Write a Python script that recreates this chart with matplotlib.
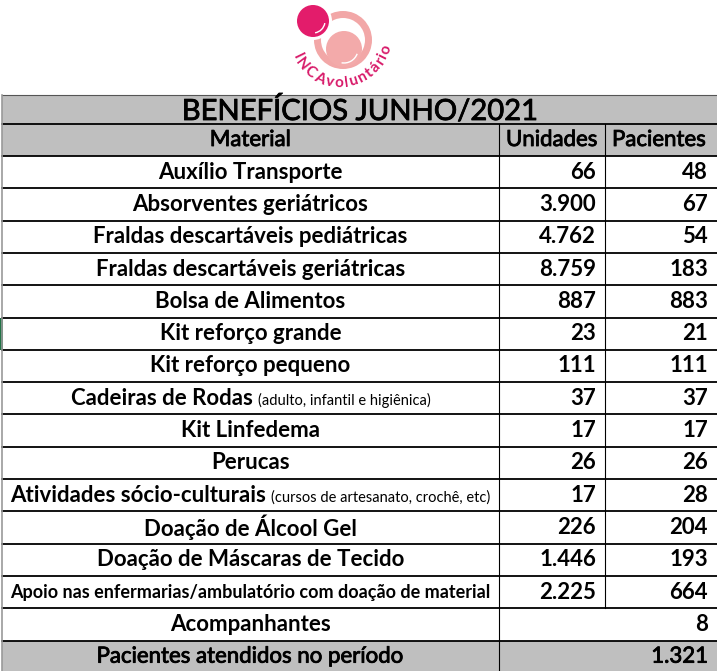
import numpy as np
import matplotlib.pyplot as plt
import matplotlib.patheffects as pe
from matplotlib.patches import Rectangle, Circle, Wedge, Arc

titulo = "BENEFÍCIOS JUNHO/2021"
cabecalho = ["Material", "Unidades", "Pacientes"]
materiais = ["Auxílio Transporte", "Absorventes geriátricos",
             "Fraldas descartáveis pediátricas", "Fraldas descartáveis geriátricas",
             "Bolsa de Alimentos", "Kit reforço grande", "Kit reforço pequeno",
             "Cadeiras de Rodas", "Kit Linfedema", "Perucas",
             "Atividades sócio-culturais", "Doação de Álcool Gel",
             "Doação de Máscaras de Tecido",
             "Apoio nas enfermarias/ambulatório com doação de material",
             "Acompanhantes"]
notas = ["", "", "", "", "", "", "", "(adulto, infantil e higiênica)", "", "",
         "(cursos de artesanato, crochê, etc)", "", "", "", ""]
unidades = [66, 3900, 4762, 8759, 887, 23, 111, 37, 17, 26, 17, 226, 1446, 2225, None]
pacientes = [48, 67, 54, 183, 883, 21, 111, 37, 17, 26, 28, 204, 193, 664, 8]
total_label = "Pacientes atendidos no período"
total_pacientes = 1321
logo_texto = "INCAvoluntário"

def fmt(v):
    return f"{v:,}".replace(",", ".")

plt.rcParams['font.family'] = ['Lato', 'DejaVu Sans']

fig = plt.figure(figsize=(7.17, 6.71), dpi=100)
ax = fig.add_axes([0, 0, 1, 1])
ax.set_xlim(0, 717)
ax.set_ylim(671, 0)
ax.axis('off')

x0, x1, x2, x3 = 2, 499, 605, 717
gray = '#BFBFBF'
y_title, y_head, y_data = 95, 124, 156
rh = 32.3
n = len(materiais)
y_tot = y_data + n * rh
medio = [pe.withStroke(linewidth=0.6, foreground='black')]

# fundos cinza
ax.add_patch(Rectangle((x0, y_title), x3 - x0, y_data - y_title, color=gray, lw=0))
ax.add_patch(Rectangle((x0, y_tot), x3 - x0, 40, color=gray, lw=0))

# linhas
ax.plot([x0, x3], [y_title, y_title], color='#555555', lw=0.8)
for y in [y_head, y_data] + [y_data + i * rh for i in range(1, n + 1)]:
    ax.plot([x0, x3], [y, y], color='black', lw=1.3)
ax.plot([x0, x0], [y_title, 671], color='#999999', lw=1.2)
ax.plot([x1, x1], [y_head, 671], color='black', lw=0.8)
ax.plot([x2, x2], [y_head, y_tot - rh], color='black', lw=0.8)
ax.add_patch(Rectangle((0, y_data + 5 * rh), 2.5, rh, color='#217346', lw=0))

fs = 16
ax.text((x0 + x3) / 2, (y_title + y_head) / 2 + 1, titulo, ha='center', va='center',
        fontsize=21, path_effects=medio)
ax.text((x0 + x1) / 2, (y_head + y_data) / 2, cabecalho[0], ha='center', va='center',
        fontsize=fs, path_effects=medio)
ax.text((x1 + x2) / 2, (y_head + y_data) / 2, cabecalho[1], ha='center', va='center',
        fontsize=fs, path_effects=medio)
ax.text((x2 + x3) / 2 - 2, (y_head + y_data) / 2, cabecalho[2], ha='center', va='center',
        fontsize=fs, path_effects=medio)

fig.canvas.draw()
r = fig.canvas.get_renderer()
for i, (m, nota, u, p) in enumerate(zip(materiais, notas, unidades, pacientes)):
    yc = y_data + (i + 0.5) * rh
    size = 13 if len(m) > 40 else fs
    if nota:
        t1 = ax.text(0, yc + 7, m, ha='left', va='baseline', fontsize=size, fontweight='bold')
        t2 = ax.text(0, yc + 7, nota, ha='left', va='baseline', fontsize=10.5)
        w1 = t1.get_window_extent(r).width
        w2 = t2.get_window_extent(r).width
        start = (x0 + x1) / 2 - (w1 + 5 + w2) / 2
        t1.set_x(start)
        t2.set_x(start + w1 + 5)
    else:
        ax.text((x0 + x1) / 2, yc, m, ha='center', va='center', fontsize=size, fontweight='bold')
    if u is not None:
        ax.text(x2 - 9, yc, fmt(u), ha='right', va='center', fontsize=fs, fontweight='bold')
    ax.text(x3 - 9, yc, fmt(p), ha='right', va='center', fontsize=fs, fontweight='bold')

yc = y_tot + rh / 2
ax.text((x0 + x1) / 2, yc, total_label, ha='center', va='center', fontsize=fs,
        path_effects=medio)
ax.text(x3 - 9, yc, fmt(total_pacientes), ha='right', va='center', fontsize=fs,
        path_effects=medio)

# logo
mag = '#E31C6B'
ax.add_patch(Wedge((343, 40), 29, 0, 360, width=7, color='#F2A7A7', lw=0))
ax.add_patch(Circle((344, 49), 18, color='#F3AAAA', lw=0))
ax.add_patch(Arc((344, 49), 28, 28, theta1=20, theta2=100, color='white', lw=1))
ax.add_patch(Circle((313, 21), 19, color='white', lw=0))
ax.add_patch(Circle((313, 21), 16, color=mag, lw=0))
ax.add_patch(Arc((313, 21), 24, 24, theta1=10, theta2=80, color='white', lw=1))

h, k, rad = 340, 35, 48
chars = []
for c in logo_texto:
    t = ax.text(0, 0, c, fontsize=11, fontweight='bold', color='#D81B6A',
                ha='center', va='center', rotation_mode='anchor')
    chars.append((t, t.get_window_extent(r).width))
th0, th1 = np.radians(154), np.radians(18)
inner = sum(w for _, w in chars) - chars[0][1] / 2 - chars[-1][1] / 2
gap = ((th0 - th1) * rad - inner) / (len(chars) - 1)
theta = th0 + chars[0][1] / 2 / rad
for t, w in chars:
    theta -= w / 2 / rad
    t.set_position((h + rad * np.cos(theta), k + rad * np.sin(theta)))
    phi = np.degrees(np.arctan2(np.sin(theta), -np.cos(theta)))
    t.set_rotation(phi - 90)
    theta -= (w / 2 + gap) / rad

fig.savefig('out.png', dpi=100)
